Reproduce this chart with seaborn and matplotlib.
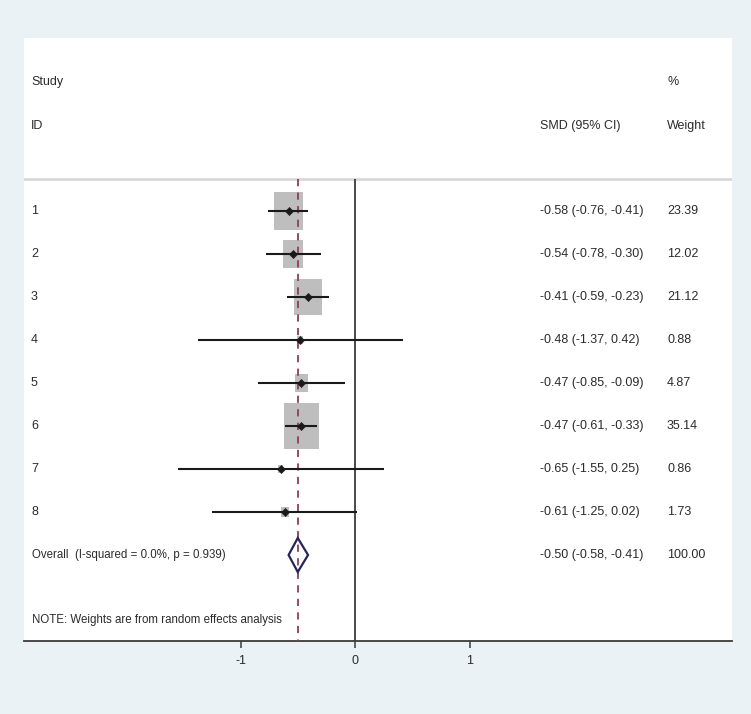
import matplotlib
matplotlib.use("Agg")
import matplotlib.pyplot as plt
from matplotlib.patches import Rectangle, Polygon
import seaborn as sns
import numpy as np
import pandas as pd

studies = ["1", "2", "3", "4", "5", "6", "7", "8"]
smd = [-0.58, -0.54, -0.41, -0.48, -0.47, -0.47, -0.65, -0.61]
lo = [-0.76, -0.78, -0.59, -1.37, -0.85, -0.61, -1.55, -1.25]
hi = [-0.41, -0.30, -0.23, 0.42, -0.09, -0.33, 0.25, 0.02]
weights = [23.39, 12.02, 21.12, 0.88, 4.87, 35.14, 0.86, 1.73]
overall = (-0.50, -0.58, -0.41)
overall_label = "Overall  (I-squared = 0.0%, p = 0.939)"
note = "NOTE: Weights are from random effects analysis"
xticks = [-1, 0, 1]

sns.set_theme(style="white")
plt.rcParams['font.family'] = ['Liberation Sans', 'DejaVu Sans']

W, H = 751, 714
fig = plt.figure(figsize=(W / 100, H / 100), dpi=100)
fig.patch.set_facecolor("#EAF2F6")

left_px, right_px, top_px, bot_px = 24, 732, 38, 641
ax = fig.add_axes([left_px / W, 1 - bot_px / H, (right_px - left_px) / W, (bot_px - top_px) / H])
ax.set_facecolor("white")

px_per_unit = 114.5
x0_px = 355
xmin = -(x0_px - left_px) / px_per_unit
xmax = (right_px - x0_px) / px_per_unit
row_px = 43.0
ymin_top = 1 - (211 - top_px) / row_px
ymax_bot = 1 + (bot_px - 211) / row_px
ax.set_xlim(xmin, xmax)
ax.set_ylim(ymax_bot, ymin_top)

rows = np.arange(1, len(studies) + 1)
overall_row = len(studies) + 1
sep_y = 1 - (211 - 179) / row_px

df = pd.DataFrame({"study": studies, "smd": smd, "lo": lo, "hi": hi, "w": weights, "row": rows})

# separator
ax.axhline(sep_y, color="#D8D8D8", lw=2)
# zero line and overall dashed line
ax.vlines(0, sep_y, ymax_bot, color="#3A3A3A", lw=1.3, zorder=2)
ax.vlines(overall[0], sep_y, ymax_bot, color="#8E3F52", lw=1.3, linestyles=(0, (4, 3.5)), zorder=4)

# boxes
for _, r in df.iterrows():
    s = np.sqrt(r.w)
    bw = 5.9 * s / px_per_unit
    bh = 7.8 * s / row_px
    ax.add_patch(Rectangle((r.smd - bw / 2, r.row - bh / 2), bw, bh, facecolor="#BEBEBE",
                           edgecolor="none", zorder=3))

ax.hlines(df.row, df.lo, df.hi, color="#1A1A1A", lw=1.5, zorder=5)
sns.scatterplot(data=df, x="smd", y="row", marker="D", color="#1A1A1A", s=18, ax=ax,
                zorder=6, edgecolor="#1A1A1A", legend=False)

# diamond
dh = 17 / row_px
ax.add_patch(Polygon([(overall[1], overall_row), (overall[0], overall_row - dh),
                      (overall[2], overall_row), (overall[0], overall_row + dh)],
                     closed=True, fill=False, edgecolor="#25245E", lw=1.6, zorder=5))

# text
tc = "#2B2B2B"
fs = 9.0
fs2 = 8.3
trans = ax.get_yaxis_transform()
def xa(px):
    return (px - left_px) / (right_px - left_px)
ax.text(xa(31), 1 - (211 - 82) / row_px, "Study", transform=trans, fontsize=fs, color=tc, va="center")
ax.text(xa(31), 1 - (211 - 126) / row_px, "ID", transform=trans, fontsize=fs, color=tc, va="center")
ax.text(xa(667), 1 - (211 - 82) / row_px, "%", transform=trans, fontsize=fs, color=tc, va="center")
ax.text(xa(667), 1 - (211 - 126) / row_px, "Weight", transform=trans, fontsize=fs, color=tc, va="center")
ax.text(xa(540), 1 - (211 - 126) / row_px, "SMD (95% CI)", transform=trans, fontsize=fs, color=tc, va="center")

for _, r in df.iterrows():
    ax.text(xa(31), r.row, r.study, transform=trans, fontsize=fs, color=tc, va="center")
    ax.text(xa(540), r.row, f"{r.smd:.2f} ({r.lo:.2f}, {r.hi:.2f})", transform=trans,
            fontsize=fs, color=tc, va="center")
    ax.text(xa(667), r.row, f"{r.w:.2f}", transform=trans, fontsize=fs, color=tc, va="center")

ax.text(xa(32), overall_row, overall_label, transform=trans, fontsize=fs2, color=tc, va="center")
ax.text(xa(540), overall_row, f"{overall[0]:.2f} ({overall[1]:.2f}, {overall[2]:.2f})",
        transform=trans, fontsize=fs, color=tc, va="center")
ax.text(xa(667), overall_row, f"{100:.2f}", transform=trans, fontsize=fs, color=tc, va="center")
ax.text(xa(32), 1 + (620 - 211) / row_px, note, transform=trans, fontsize=fs2, color=tc, va="center")

# axes styling
for sp in ["top", "left", "right"]:
    ax.spines[sp].set_visible(False)
ax.spines["bottom"].set_color("#3A3A3A")
ax.spines["bottom"].set_linewidth(1.3)
ax.set_xticks(xticks)
ax.set_xticklabels([str(t) for t in xticks])
ax.tick_params(axis="x", bottom=True, length=5, width=1.1, color="#3A3A3A", labelsize=fs,
               labelcolor=tc, pad=5)
ax.set_yticks([])
ax.set_xlabel("")
ax.set_ylabel("")

fig.savefig("out.png", dpi=100, facecolor=fig.get_facecolor())
